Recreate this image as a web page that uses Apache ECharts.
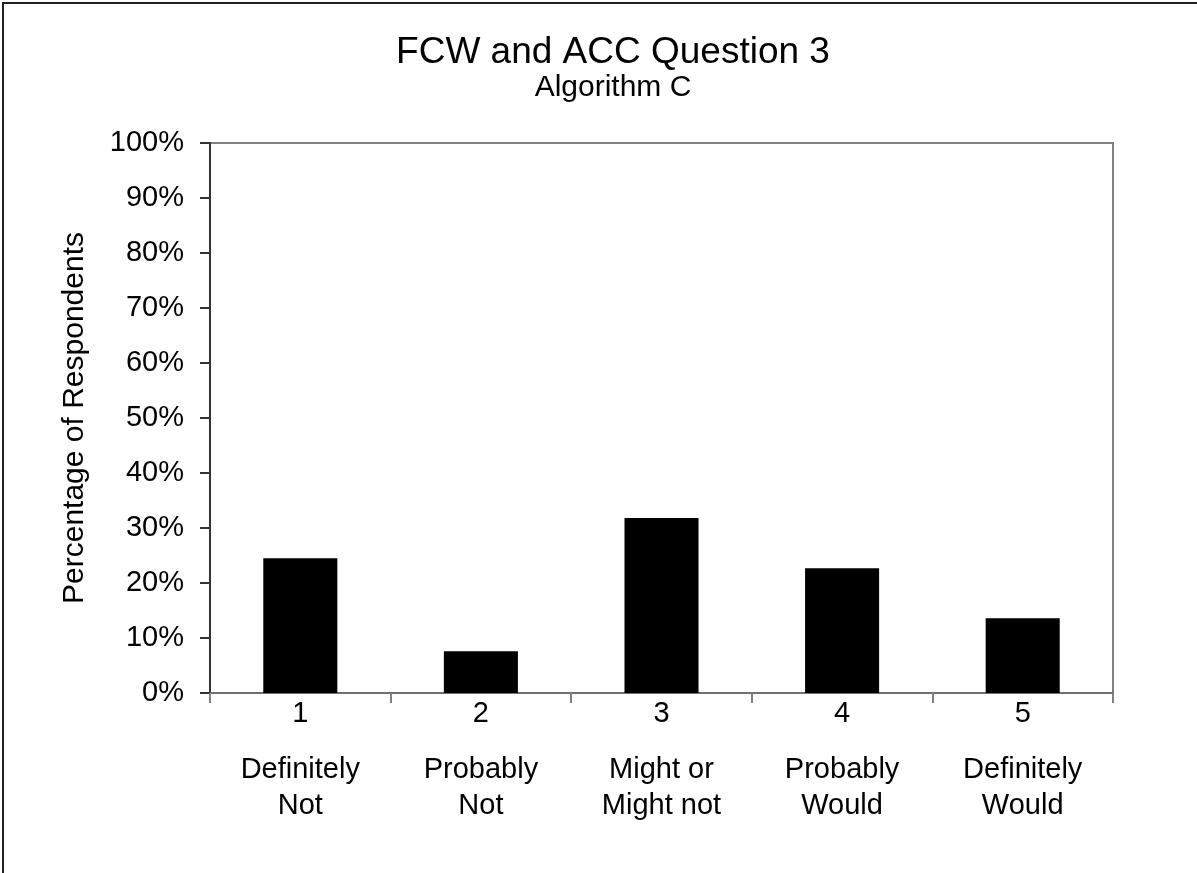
<!DOCTYPE html>
<html>
<head>
<meta charset="utf-8">
<script src="https://cdn.jsdelivr.net/npm/echarts@6/dist/echarts.min.js"></script>
<style>
html,body{margin:0;padding:0;background:#fff;}
#chart{width:1197px;height:873px;}
</style>
</head>
<body>
<div id="chart"></div>
<script>
const titleText = "FCW and ACC Question 3";
const subtitleText = "Algorithm C";
const yAxisName = "Percentage of Respondents";
const categories = ["1", "2", "3", "4", "5"];
const categoryDescriptions = ["Definitely\nNot", "Probably\nNot", "Might or\nMight not", "Probably\nWould", "Definitely\nWould"];
const values = [24.5, 7.6, 31.8, 22.7, 13.6];
const yTicks = { min: 0, max: 100, interval: 10 };

const FONT = "Liberation Sans, Arial, sans-serif";
const chart = echarts.init(document.getElementById('chart'));
chart.setOption({
  animation: false,
  backgroundColor: '#fff',
  graphic: [{
    type: 'rect',
    shape: { x: 3, y: 3, width: 1400, height: 1200 },
    style: { fill: 'none', stroke: '#222', lineWidth: 2 },
    silent: true
  }],
  title: [
    { text: titleText, left: 613, top: 34, textAlign: 'center', padding: 0,
      textStyle: { fontFamily: FONT, fontSize: 37, fontWeight: 'normal', color: '#000' } },
    { text: subtitleText, left: 613, top: 73, textAlign: 'center', padding: 0,
      textStyle: { fontFamily: FONT, fontSize: 30, fontWeight: 'normal', color: '#000' } }
  ],
  grid: { left: 210, right: 84, top: 143, bottom: 180, show: true, borderColor: '#808080', borderWidth: 2, backgroundColor: 'transparent' },
  xAxis: [
    {
      type: 'category', data: categories, position: 'bottom',
      axisLine: { show: true, lineStyle: { color: '#707070', width: 2 } },
      axisTick: { show: true, length: 10, lineStyle: { color: '#808080', width: 2 } },
      axisLabel: { margin: 6, fontFamily: FONT, fontSize: 29, color: '#000', lineHeight: 30 },
      splitLine: { show: false }
    },
    {
      type: 'category', data: categoryDescriptions, position: 'bottom', gridIndex: 0,
      axisLine: { show: false }, axisTick: { show: false }, splitLine: { show: false },
      axisLabel: { margin: 59, fontFamily: FONT, fontSize: 29, color: '#000', lineHeight: 36 }
    }
  ],
  yAxis: {
    type: 'value', min: yTicks.min, max: yTicks.max, interval: yTicks.interval,
    name: yAxisName, nameLocation: 'middle', nameGap: 120,
    nameTextStyle: { fontFamily: FONT, fontSize: 30, color: '#000' },
    axisLine: { show: true, lineStyle: { color: '#333', width: 2 } },
    axisTick: { show: true, length: 10, lineStyle: { color: '#333', width: 2 } },
    axisLabel: { margin: 26, fontFamily: FONT, fontSize: 29, color: '#000', formatter: '{value}%' },
    splitLine: { show: false }
  },
  series: [{
    type: 'bar', data: values, xAxisIndex: 0, barWidth: '41%',
    itemStyle: { color: '#000' }
  }]
});
</script>
</body>
</html>
